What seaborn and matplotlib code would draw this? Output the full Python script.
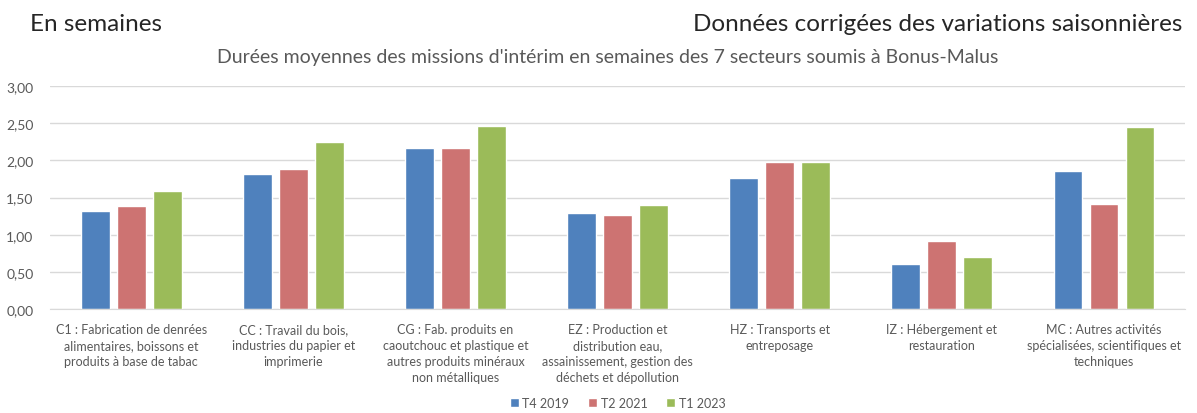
import pandas as pd
import numpy as np
import matplotlib.pyplot as plt
import seaborn as sns
from matplotlib.ticker import FuncFormatter

# Data
secteurs = [
    "C1 : Fabrication de denrées\nalimentaires, boissons et\nproduits à base de tabac",
    "CC : Travail du bois,\nindustries du papier et\nimprimerie",
    "CG : Fab. produits en\ncaoutchouc et plastique et\nautres produits minéraux\nnon métalliques",
    "EZ : Production et\ndistribution eau,\nassainissement, gestion des\ndéchets et dépollution",
    "HZ : Transports et\nentreposage",
    "IZ : Hébergement et\nrestauration",
    "MC : Autres activités\nspécialisées, scientifiques et\ntechniques",
]
periodes = ["T4 2019", "T2 2021", "T1 2023"]
t4_2019 = [1.32, 1.82, 2.17, 1.29, 1.76, 0.60, 1.86]
t2_2021 = [1.39, 1.89, 2.16, 1.27, 1.98, 0.92, 1.41]
t1_2023 = [1.59, 2.24, 2.46, 1.40, 1.98, 0.70, 2.45]

df = pd.DataFrame({
    "secteur": secteurs * 3,
    "periode": np.repeat(periodes, len(secteurs)),
    "duree": t4_2019 + t2_2021 + t1_2023,
})

sns.set_style("white")
plt.rcParams['font.family'] = ['Lato', 'DejaVu Sans']

fig = plt.figure(figsize=(11.97, 4.14), dpi=100)
ax = fig.add_axes([0.042, 0.251, 0.948, 0.539])

sns.barplot(data=df, x="secteur", y="duree", hue="periode",
            palette=["#4F81BD", "#CD7372", "#9BBB59"], saturation=1,
            width=0.667, gap=0.2, ax=ax, legend=True)

ax.set_ylim(0, 3)
ax.set_yticks(np.arange(0, 3.01, 0.5))
ax.yaxis.set_major_formatter(FuncFormatter(lambda v, p: f"{v:.2f}".replace(".", ",")))
ax.grid(axis="y", color="#D9D9D9", linewidth=1)
ax.set_axisbelow(True)
for s in ["top", "right", "left"]:
    ax.spines[s].set_visible(False)
ax.spines["bottom"].set_color("#D9D9D9")
ax.tick_params(axis="both", length=0, colors="#595959")
ax.tick_params(axis="y", pad=12, labelsize=10)
ax.tick_params(axis="x", pad=10, labelsize=9)
for lbl in ax.get_xticklabels():
    lbl.set_linespacing(1.4)
ax.set_xlabel("")
ax.set_ylabel("")

ax.legend(loc="center", bbox_to_anchor=(0.5, -0.42), ncol=3, frameon=False,
          fontsize=9, handlelength=0.7, handleheight=0.7, handletextpad=0.3,
          columnspacing=1.5, labelcolor="#595959")

fig.text(0.025, 0.94, "En semaines", fontsize=17.5, ha="left", va="center")
fig.text(0.988, 0.94, "Données corrigées des variations saisonnières", fontsize=17.5,
         ha="right", va="center")
fig.text(0.508, 0.862, "Durées moyennes des missions d'intérim en semaines des 7 secteurs soumis à Bonus-Malus",
         fontsize=14, ha="center", va="center", color="#595959")

fig.savefig("out.png", dpi=100)
